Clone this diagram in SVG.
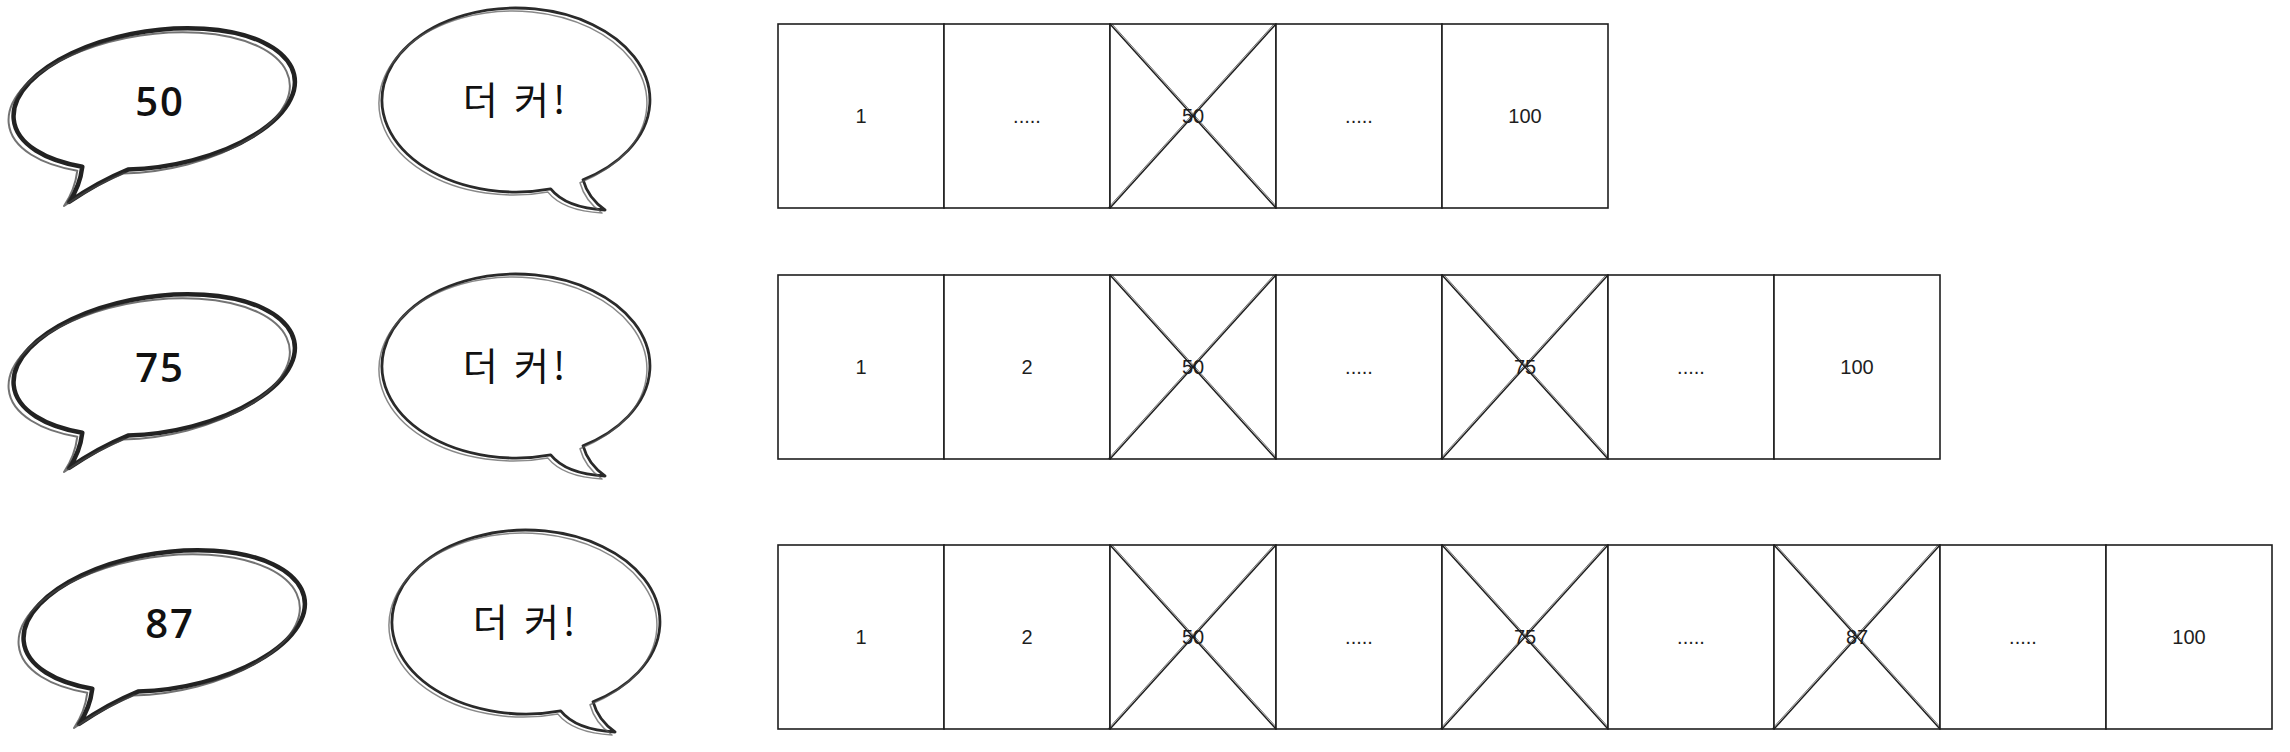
<svg xmlns="http://www.w3.org/2000/svg" xmlns:xlink="http://www.w3.org/1999/xlink" width="2290" height="752" viewBox="0 0 2290 752">
<style>
  .bx { fill: #ffffff; stroke: #1e1e1e; stroke-width: 1.6; }
  .x { stroke: #1e1e1e; stroke-width: 1.5; fill: none; }
  .x2 { stroke: #1e1e1e; stroke-width: 0.9; fill: none; opacity: 0.7; }
  .lbl { font-family: "Liberation Sans", "Noto Sans", sans-serif; font-size: 20px; fill: #1e1e1e; text-anchor: middle; dominant-baseline: central; }
  .b1 { fill: #ffffff; stroke: #222; stroke-width: 4.5; stroke-linejoin: round; }
  .b1s { fill: none; stroke: #444; stroke-width: 2; opacity: 0.75; stroke-linejoin: round; }
  .b2 { fill: #ffffff; stroke: #2a2a2a; stroke-width: 2.8; stroke-linejoin: round; }
  .b2s { fill: none; stroke: #555; stroke-width: 1.5; opacity: 0.7; stroke-linejoin: round; }
  .num { font-family: "Open Sans", "Liberation Sans", sans-serif; font-size: 40px; font-weight: 600; letter-spacing: 2px; fill: #111; text-anchor: middle; dominant-baseline: central; }
  .kor { font-family: "Noto Sans CJK KR", "Noto Sans", sans-serif; font-size: 38px; letter-spacing: 4px; fill: #111; text-anchor: middle; dominant-baseline: central; }
</style>
<defs>
  <path id="bub1" d="M 128,169.6 A 142 68 -9 1 0 82.3,166.7 Q 80,186 69,202 Q 98,182 128,169.6 Z"/>
  <path id="bub2" d="M 550.7,188.9 A 134 92 0 1 1 583,179.7 Q 588,198 605,210 Q 566,208 550.7,188.9 Z"/>
  <g id="cross">
    <line class="x" x1="0" y1="0" x2="166" y2="184"/>
    <line class="x" x1="166" y1="0" x2="0" y2="184"/>
    <line class="x2" x1="2" y1="0" x2="168" y2="184"/>
    <line class="x2" x1="164" y1="0" x2="-2" y2="184"/>
  </g>
</defs>

<!-- Row 1 bubbles -->
<g id="bubble-50">
  <use href="#bub1" class="b1"/>
  <use href="#bub1" class="b1s" transform="translate(-5,4)"/>
  <text class="num" x="160" y="100">50</text>
</g>
<g id="bubble-more-1">
  <use href="#bub2" class="b2"/>
  <use href="#bub2" class="b2s" transform="translate(-3,3)"/>
  <text class="kor" x="516" y="97">더 커!</text>
</g>

<!-- Row 2 bubbles -->
<g id="bubble-75" transform="translate(0,266)">
  <use href="#bub1" class="b1"/>
  <use href="#bub1" class="b1s" transform="translate(-5,4)"/>
  <text class="num" x="160" y="100">75</text>
</g>
<g id="bubble-more-2" transform="translate(0,266)">
  <use href="#bub2" class="b2"/>
  <use href="#bub2" class="b2s" transform="translate(-3,3)"/>
  <text class="kor" x="516" y="97">더 커!</text>
</g>

<!-- Row 3 bubbles -->
<g id="bubble-87" transform="translate(10,522)">
  <use href="#bub1" class="b1"/>
  <use href="#bub1" class="b1s" transform="translate(-5,4)"/>
  <text class="num" x="160" y="100">87</text>
</g>
<g id="bubble-more-3" transform="translate(10,522)">
  <use href="#bub2" class="b2"/>
  <use href="#bub2" class="b2s" transform="translate(-3,3)"/>
  <text class="kor" x="516" y="97">더 커!</text>
</g>

<!-- Row 1 boxes -->
<g id="row1">
  <g id="r1-b1"><rect class="bx" x="778" y="24" width="166" height="184"/><text class="lbl" x="861" y="116">1</text></g>
  <g id="r1-b2"><rect class="bx" x="944" y="24" width="166" height="184"/><text class="lbl" x="1027" y="116">.....</text></g>
  <g id="r1-b3"><rect class="bx" x="1110" y="24" width="166" height="184"/><text class="lbl" x="1193" y="116">50</text><use href="#cross" x="1110" y="24"/></g>
  <g id="r1-b4"><rect class="bx" x="1276" y="24" width="166" height="184"/><text class="lbl" x="1359" y="116">.....</text></g>
  <g id="r1-b5"><rect class="bx" x="1442" y="24" width="166" height="184"/><text class="lbl" x="1525" y="116">100</text></g>
</g>

<!-- Row 2 boxes -->
<g id="row2">
  <g id="r2-b1"><rect class="bx" x="778" y="275" width="166" height="184"/><text class="lbl" x="861" y="367">1</text></g>
  <g id="r2-b2"><rect class="bx" x="944" y="275" width="166" height="184"/><text class="lbl" x="1027" y="367">2</text></g>
  <g id="r2-b3"><rect class="bx" x="1110" y="275" width="166" height="184"/><text class="lbl" x="1193" y="367">50</text><use href="#cross" x="1110" y="275"/></g>
  <g id="r2-b4"><rect class="bx" x="1276" y="275" width="166" height="184"/><text class="lbl" x="1359" y="367">.....</text></g>
  <g id="r2-b5"><rect class="bx" x="1442" y="275" width="166" height="184"/><text class="lbl" x="1525" y="367">75</text><use href="#cross" x="1442" y="275"/></g>
  <g id="r2-b6"><rect class="bx" x="1608" y="275" width="166" height="184"/><text class="lbl" x="1691" y="367">.....</text></g>
  <g id="r2-b7"><rect class="bx" x="1774" y="275" width="166" height="184"/><text class="lbl" x="1857" y="367">100</text></g>
</g>

<!-- Row 3 boxes -->
<g id="row3">
  <g id="r3-b1"><rect class="bx" x="778" y="545" width="166" height="184"/><text class="lbl" x="861" y="637">1</text></g>
  <g id="r3-b2"><rect class="bx" x="944" y="545" width="166" height="184"/><text class="lbl" x="1027" y="637">2</text></g>
  <g id="r3-b3"><rect class="bx" x="1110" y="545" width="166" height="184"/><text class="lbl" x="1193" y="637">50</text><use href="#cross" x="1110" y="545"/></g>
  <g id="r3-b4"><rect class="bx" x="1276" y="545" width="166" height="184"/><text class="lbl" x="1359" y="637">.....</text></g>
  <g id="r3-b5"><rect class="bx" x="1442" y="545" width="166" height="184"/><text class="lbl" x="1525" y="637">75</text><use href="#cross" x="1442" y="545"/></g>
  <g id="r3-b6"><rect class="bx" x="1608" y="545" width="166" height="184"/><text class="lbl" x="1691" y="637">.....</text></g>
  <g id="r3-b7"><rect class="bx" x="1774" y="545" width="166" height="184"/><text class="lbl" x="1857" y="637">87</text><use href="#cross" x="1774" y="545"/></g>
  <g id="r3-b8"><rect class="bx" x="1940" y="545" width="166" height="184"/><text class="lbl" x="2023" y="637">.....</text></g>
  <g id="r3-b9"><rect class="bx" x="2106" y="545" width="166" height="184"/><text class="lbl" x="2189" y="637">100</text></g>
</g>

<g id="connectors"/>
</svg>
